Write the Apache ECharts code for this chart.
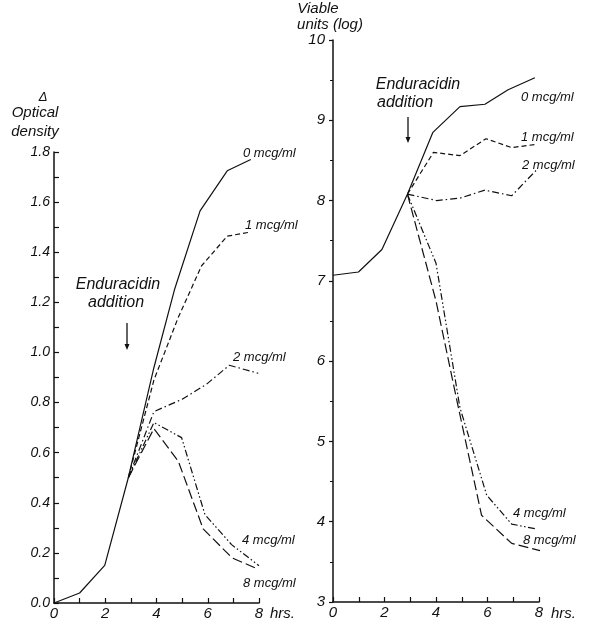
<!DOCTYPE html>
<html>
<head>
<meta charset="utf-8">
<script src="https://cdn.jsdelivr.net/npm/echarts@6/dist/echarts.min.js"></script>
<style>
html,body{margin:0;padding:0;background:#fff;}
#chart{width:593px;height:621px;}
</style>
</head>
<body>
<div id="chart"></div>
<script>
// ---- Left panel: Δ optical density vs hours ----
const odHours0 = [0, 1, 1.98, 2.9, 3.9, 4.7, 5.7, 6.76, 7.68];
const odVals0  = [0, 0.04, 0.15, 0.5, 0.94, 1.25, 1.565, 1.725, 1.77];
const odHours1 = [2.9, 3.9, 4.85, 5.76, 6.76, 7.64];
const odVals1  = [0.5, 0.89, 1.14, 1.346, 1.464, 1.48];
const odHours2 = [2.9, 3.9, 5.0, 5.95, 6.84, 7.97];
const odVals2  = [0.5, 0.764, 0.813, 0.873, 0.949, 0.917];
const odHours4 = [2.9, 3.9, 4.98, 5.89, 6.93, 8.0];
const odVals4  = [0.5, 0.72, 0.66, 0.353, 0.233, 0.149];
const odHours8 = [2.9, 3.9, 4.85, 5.82, 6.95, 7.97];
const odVals8  = [0.5, 0.696, 0.566, 0.296, 0.18, 0.135];

// ---- Right panel: viable units (log) vs hours ----
const vuHours0 = [0, 0.99, 1.9, 2.89, 3.88, 4.93, 5.9, 6.8, 7.84];
const vuVals0  = [7.07, 7.11, 7.39, 8.08, 8.85, 9.17, 9.2, 9.38, 9.53];
const vuHours1 = [2.89, 3.9, 4.93, 5.94, 6.94, 7.9];
const vuVals1  = [8.08, 8.6, 8.56, 8.77, 8.66, 8.7];
const vuHours2 = [2.89, 4.03, 4.93, 5.9, 6.94, 7.9];
const vuVals2  = [8.08, 8.0, 8.03, 8.13, 8.06, 8.38];
const vuHours4 = [2.89, 4.0, 4.93, 5.97, 6.94, 7.9];
const vuVals4  = [8.08, 7.22, 5.42, 4.33, 3.97, 3.91];
const vuHours8 = [2.89, 4.0, 4.87, 5.77, 6.94, 8.04];
const vuVals8  = [8.08, 6.75, 5.42, 4.08, 3.73, 3.64];

const seriesNames = ['0 mcg/ml', '1 mcg/ml', '2 mcg/ml', '4 mcg/ml', '8 mcg/ml'];
const xTicks = [0, 2, 4, 6, 8];
const odTicks = ['0.0','0.2','0.4','0.6','0.8','1.0','1.2','1.4','1.6','1.8'];
const vuTicks = ['3','4','5','6','7','8','9','10'];

const zip = (xs, ys) => xs.map((x, i) => [x, ys[i]]);

const FONT = 'Liberation Sans';
const INK = '#111';
const styles = [
  {type: 'solid'},
  {type: [5, 3]},
  {type: [7, 3, 1.5, 3]},
  {type: [7, 2.5, 1.5, 2.5, 1.5, 2.5]},
  {type: [10, 4]}
];

function xAxisCfg(gi) {
  return {
    gridIndex: gi, type: 'value', min: 0, max: 8, interval: 2,
    axisLine: {show: true, onZero: false, lineStyle: {color: INK, width: 1.5}},
    axisTick: {show: true, inside: true, length: 5, lineStyle: {color: INK, width: 1.2}},
    minorTick: {show: true, splitNumber: 2, length: 5, lineStyle: {color: INK, width: 1.2}},
    splitLine: {show: false},
    axisLabel: {color: INK, fontFamily: FONT, fontStyle: 'italic', fontSize: 15, margin: 3,
      formatter: v => xTicks.includes(v) ? String(v) : ''}
  };
}

const option = {
  animation: false,
  backgroundColor: '#fff',
  grid: [
    {left: 54, top: 152, width: 205, height: 451},
    {left: 333, top: 40, width: 206, height: 562}
  ],
  xAxis: [xAxisCfg(0), xAxisCfg(1)],
  yAxis: [
    {gridIndex: 0, type: 'value', min: 0, max: 1.8, interval: 0.2,
      axisLine: {show: true, lineStyle: {color: INK, width: 1.5}},
      axisTick: {show: true, inside: true, length: 5, lineStyle: {color: INK, width: 1.2}},
      minorTick: {show: true, splitNumber: 2, length: 5, lineStyle: {color: INK, width: 1.2}},
      splitLine: {show: false},
      axisLabel: {color: INK, fontFamily: FONT, fontStyle: 'italic', fontSize: 14, margin: 4,
        formatter: v => odTicks[Math.round(v / 0.2)] || ''}},
    {gridIndex: 1, type: 'value', min: 3, max: 10, interval: 1,
      axisLine: {show: true, lineStyle: {color: INK, width: 1.5}},
      axisTick: {show: true, inside: false, length: 4, lineStyle: {color: INK, width: 1.2}},
      minorTick: {show: true, splitNumber: 2, length: 3, lineStyle: {color: INK, width: 1}},
      splitLine: {show: false},
      axisLabel: {color: INK, fontFamily: FONT, fontStyle: 'italic', fontSize: 15, margin: 8,
        formatter: v => vuTicks[Math.round(v - 3)] || ''}}
  ],
  series: [
    [odHours0, odVals0], [odHours1, odVals1], [odHours2, odVals2], [odHours4, odVals4], [odHours8, odVals8]
  ].map((d, i) => ({
    name: 'OD ' + seriesNames[i], type: 'line', xAxisIndex: 0, yAxisIndex: 0,
    data: zip(d[0], d[1]), symbol: 'none', silent: true,
    lineStyle: {color: INK, width: 1.2, type: styles[i].type}
  })).concat([
    [vuHours0, vuVals0], [vuHours1, vuVals1], [vuHours2, vuVals2], [vuHours4, vuVals4], [vuHours8, vuVals8]
  ].map((d, i) => ({
    name: 'VU ' + seriesNames[i], type: 'line', xAxisIndex: 1, yAxisIndex: 1,
    data: zip(d[0], d[1]), symbol: 'none', silent: true,
    lineStyle: {color: INK, width: 1.2, type: styles[i].type}
  }))),
  graphic: []
};

function txt(x, y, s, size, align) {
  return {type: 'text', x: x, y: y, silent: true,
    style: {text: s, fill: INK, font: 'italic ' + (size || 14) + 'px "' + FONT + '"',
      textAlign: align || 'left', textVerticalAlign: 'middle'}};
}
function arrow(x, y1, y2) {
  return [
    {type: 'line', silent: true, shape: {x1: x, y1: y1, x2: x, y2: y2 - 2}, style: {stroke: INK, lineWidth: 1.3}},
    {type: 'polygon', silent: true, shape: {points: [[x - 2.5, y2 - 6], [x + 2.5, y2 - 6], [x, y2]]}, style: {fill: INK}}
  ];
}

option.graphic = [
  txt(43, 97, 'Δ', 13, 'center'),
  txt(35, 113, 'Optical', 15, 'center'),
  txt(35, 132, 'density', 15, 'center'),
  txt(318, 9, 'Viable', 15, 'center'),
  txt(330, 25, 'units (log)', 15, 'center'),
  txt(118, 285, 'Enduracidin', 16, 'center'),
  txt(116, 303, 'addition', 16, 'center'),
  txt(418, 85, 'Enduracidin', 16, 'center'),
  txt(405, 103, 'addition', 16, 'center'),
  txt(270, 614, 'hrs.', 15, 'left'),
  txt(551, 614, 'hrs.', 15, 'left'),
  txt(243, 153, seriesNames[0], 13),
  txt(245, 225, seriesNames[1], 13),
  txt(233, 357, seriesNames[2], 13),
  txt(242, 540, seriesNames[3], 13),
  txt(243, 583, seriesNames[4], 13),
  txt(521, 97, seriesNames[0], 13),
  txt(521, 137, seriesNames[1], 13),
  txt(522, 165, seriesNames[2], 13),
  txt(513, 513, seriesNames[3], 13),
  txt(523, 540, seriesNames[4], 13)
].concat(arrow(127, 323, 350)).concat(arrow(408, 117, 143));

const chart = echarts.init(document.getElementById('chart'), null, {renderer: 'canvas'});
chart.setOption(option);
</script>
</body>
</html>
